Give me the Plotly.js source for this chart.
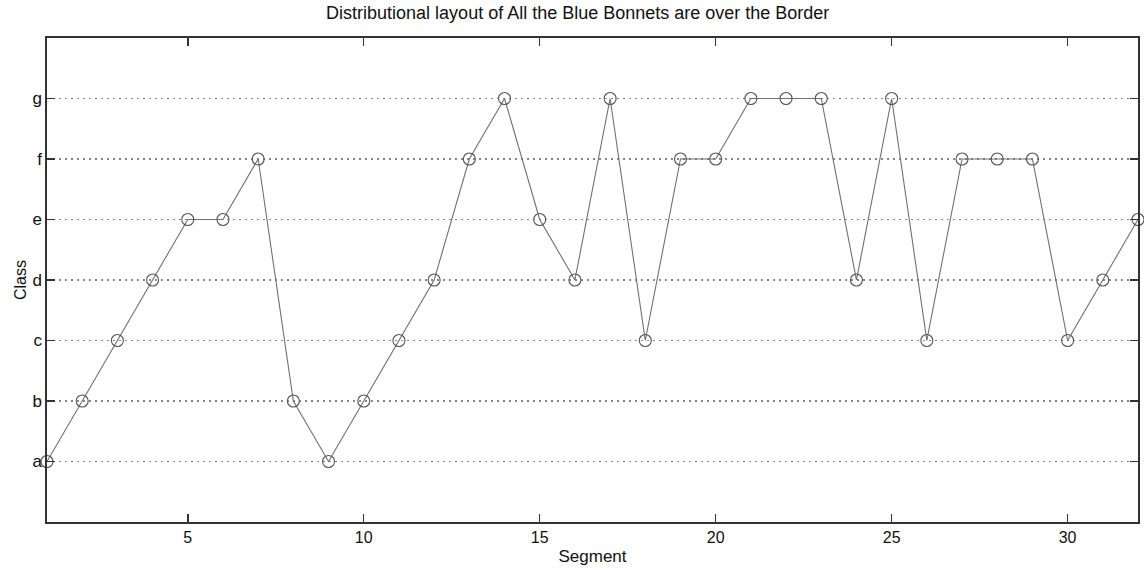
<!DOCTYPE html>
<html>
<head>
<meta charset="utf-8">
<script src="https://cdn.plot.ly/plotly-3.0.1.min.js"></script>
<style>html,body{margin:0;padding:0;background:#fff;}#chart{width:1144px;height:570px;}</style>
</head>
<body>
<div id="chart"></div>
<script>
var classes = ["a", "b", "c", "d", "e", "f", "g"];
var segments = [1,2,3,4,5,6,7,8,9,10,11,12,13,14,15,16,17,18,19,20,21,22,23,24,25,26,27,28,29,30,31,32];
var segmentClass = ["a","b","c","d","e","e","f","b","a","b","c","d","f","g","e","d","g","c","f","f","g","g","g","d","g","c","f","f","f","c","d","e"];
var xTicks = [5, 10, 15, 20, 25, 30];

var trace = {
  x: segments,
  y: segmentClass,
  type: "scatter",
  mode: "lines+markers",
  line: {color: "#707070", width: 1.1},
  marker: {symbol: "circle-open", size: 12, color: "#555", line: {width: 1.1, color: "#555"}},
  cliponaxis: false,
  hoverinfo: "x+y"
};

var fam = "Liberation Sans, Arial, Helvetica, sans-serif";

var layout = {
  width: 1144, height: 570,
  margin: {l: 47, r: 6, t: 38, b: 48},
  paper_bgcolor: "#fff", plot_bgcolor: "#fff",
  showlegend: false,
  font: {family: fam, size: 16, color: "#000"},
  title: {text: "Distributional layout of All the Blue Bonnets are over the Border", xref: "container", x: 0.505, xanchor: "center", y: 0.988, yanchor: "top", font: {size: 18, family: fam, color: "#111"}},
  xaxis: {
    range: [1, 32], tickvals: xTicks, ticks: "inside", ticklen: 8, tickwidth: 1.5, tickcolor: "#333",
    showline: true, linecolor: "#333", linewidth: 1.6, mirror: "ticks",
    showgrid: false, zeroline: false,
    tickfont: {size: 16, family: fam, color: "#111"},
    title: {text: "Segment", standoff: 5, font: {size: 17, family: fam, color: "#111"}}
  },
  yaxis: {
    type: "category", categoryorder: "array", categoryarray: classes,
    range: [-1, 7], ticks: "inside", ticklen: 8, tickwidth: 1.5, tickcolor: "#333",
    showline: true, linecolor: "#333", linewidth: 1.6, mirror: "ticks",
    showgrid: true, gridcolor: "#888", gridwidth: 1.5, griddash: "1.5px,4.5px",
    zeroline: false,
    tickfont: {size: 17, family: fam, color: "#111"},
    title: {text: "Class", standoff: 2, font: {size: 16, family: fam, color: "#111"}}
  }
};

Plotly.newPlot("chart", [trace], layout, {displayModeBar: false, staticPlot: true});
</script>
</body>
</html>
